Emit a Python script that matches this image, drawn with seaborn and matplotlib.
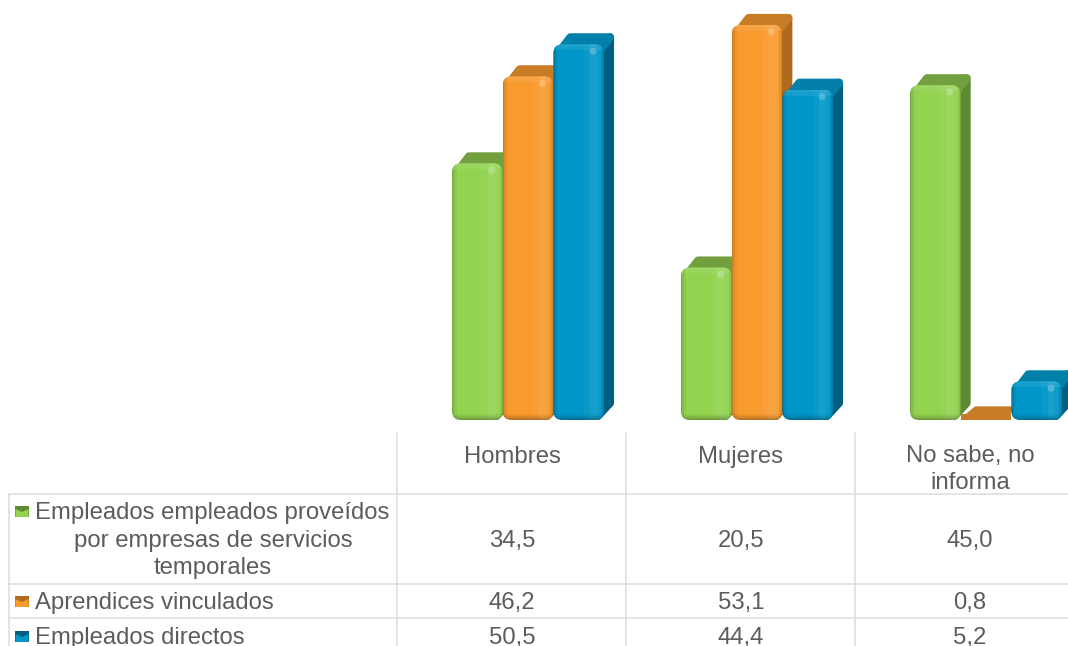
import matplotlib
matplotlib.use('Agg')
import matplotlib.pyplot as plt
import pandas as pd
import seaborn as sns
from matplotlib.patches import Ellipse, FancyBboxPatch, Polygon, Rectangle
from matplotlib.transforms import Affine2D

# data
categories = ['Hombres', 'Mujeres', 'No sabe, no informa']
series_names = ['Empleados empleados proveídos por empresas de servicios temporales',
                'Aprendices vinculados',
                'Empleados directos']
temporales = [34.5, 20.5, 45.0]
aprendices = [46.2, 53.1, 0.8]
directos = [50.5, 44.4, 5.2]

front_colors = ['#92d350', '#f99a2e', '#0096c8']
top_colors = ['#72a03e', '#c87c26', '#0380aa']
side_colors = ['#5f8a33', '#b06a1e', '#005f80']

W, H = 1068, 646
sns.set_style('white')
plt.rcParams['font.family'] = ['Liberation Sans', 'DejaVu Sans']

rows = []
for name, vals in zip(series_names, [temporales, aprendices, directos]):
    for c, v in zip(categories, vals):
        rows.append({'categoria': c, 'serie': name, 'valor': v})
df = pd.DataFrame(rows)

fig = plt.figure(figsize=(W / 100, H / 100), dpi=100)
# axes run from pixel x=398 to the right edge, baseline at y=420
ax = fig.add_axes([398 / W, (H - 420) / H, (W - 398) / W, 420 / H])
sns.barplot(data=df, x='categoria', y='valor', hue='serie', order=categories,
            hue_order=series_names, palette=front_colors, width=0.664, gap=0,
            saturation=1, legend=False, ax=ax)
ax.set_xlim((398 - 528) / 229, (W - 528) / 229)
ax.set_ylim(0, 420 / 7.44)
ax.axis('off')

# pixel coordinates with y pointing down
pix = Affine2D().scale(1 / W, -1 / H).translate(0, 1) + fig.transFigure


def to_pixels(x, y):
    px, py = ax.transData.transform((x, y))
    return px * 100 / fig.dpi, H - py * 100 / fig.dpi


def add(artist, clip=None):
    artist.set_transform(pix)
    ax.add_patch(artist)
    if clip is None:
        artist.set_clip_on(False)
    else:
        artist.set_clip_path(clip)
    return artist


def draw_3d(bar, i, z):
    left, bottom = to_pixels(bar.get_x(), 0)
    right, top = to_pixels(bar.get_x() + bar.get_width(), bar.get_height())
    w = right - left
    h = bottom - top
    d = 10
    up = 11
    r = 9
    s_in = 4
    flat = h < 10

    # side and top faces, strokes with round joins give the soft corners
    if flat:
        # a nearly empty bar is only a flat plate
        bar.set_facecolor(top_colors[i])
        bar.set_edgecolor('none')
        bar.set_linewidth(0)
        bar.set_zorder(z + 0.2)
        add(Polygon([(left + 3, bottom - 2), (left + d + 5, top - up + 5),
                     (right + d - 9, top - up + 5), (right - 6, bottom - 2)],
                    closed=True, fc=top_colors[i], ec=top_colors[i], lw=2.5,
                    joinstyle='round', zorder=z + 0.1))
        return

    side_bottom = max(bottom - up - s_in - 2, top - up + s_in + 1)
    add(Polygon([(right - s_in, top + s_in), (right + d - s_in, top - up + s_in),
                 (right + d - s_in, side_bottom), (right - s_in - 2, bottom - s_in)],
                closed=True, fc=side_colors[i], ec=side_colors[i], lw=5.8,
                joinstyle='round', zorder=z))
    add(Polygon([(left + s_in + 3, top + s_in + 2), (left + d + s_in + 3, top - up + s_in),
                 (right + d - s_in, top - up + s_in), (right - s_in, top + s_in + 2)],
                closed=True, fc=top_colors[i], ec=top_colors[i], lw=5.8,
                joinstyle='round', zorder=z + 0.1))

    # front face: the seaborn bar itself, clipped to a rounded box
    rr = min(r, h / 2 - 0.5)
    box = FancyBboxPatch((left + rr, top + rr), w - 2 * rr, h - 2 * rr,
                         boxstyle='round,pad=%f,rounding_size=%f' % (rr, rr),
                         fc='none', ec='none', transform=pix)
    ax.add_patch(box)
    box.set_clip_on(False)
    bar.set_edgecolor('none')
    bar.set_linewidth(0)
    bar.set_zorder(z + 0.2)
    bar.set_clip_path(box)

    strips = [(0, 0.03, 'black', 0.2), (0.03, 0.06, 'black', 0.1), (0.06, 0.1, 'black', 0.04),
              (0.6, 0.72, 'white', 0.04), (0.72, 0.86, 'white', 0.09),
              (0.86, 0.94, 'white', 0.05), (0.94, 0.98, 'black', 0.06), (0.98, 1.0, 'black', 0.15)]
    for a, b, col, alpha in strips:
        add(Rectangle((left + a * w, top), (b - a) * w, h, fc=col, ec='none',
                      alpha=alpha, zorder=z + 0.3), clip=box)
    for y0, hh, col, alpha in [(top, 2, 'white', 0.12), (top + 2, 4, 'white', 0.08),
                               (bottom - 6, 2, 'black', 0.05), (bottom - 4, 2, 'black', 0.12),
                               (bottom - 2, 2, 'black', 0.24)]:
        add(Rectangle((left, y0), w, hh, fc=col, ec='none', alpha=alpha, zorder=z + 0.4), clip=box)
    # small highlight in the top right corner
    if h > 20:
        add(Ellipse((right - 11, top + 7), 7, 7, fc='white', ec='none', alpha=0.22, zorder=z + 0.5))


bars = [p for p in ax.patches if isinstance(p, Rectangle)]
bars = sorted(bars, key=lambda b: b.get_x())
for k, bar in enumerate(bars):
    draw_3d(bar, k % len(series_names), 3 + k)

# table
grid = '#dcdcdc'
overlay = fig.add_axes([0, 0, 1, 1], facecolor='none')
overlay.set_xlim(0, W)
overlay.set_ylim(H, 0)
overlay.axis('off')
for x, y0 in [(9, 494), (397, 433), (626, 433), (855, 433)]:
    overlay.plot([x, x], [y0, H], color=grid, lw=1.1)
for y in [494, 584, 618]:
    overlay.plot([9, W], [y, y], color=grid, lw=1.1)

txt = dict(color='#5c5c5c', fontsize=17.2, va='center')
centers = [512, 741, 970]
overlay.text(centers[0], 457, 'Hombres', ha='center', **txt)
overlay.text(centers[1], 457, 'Mujeres', ha='center', **txt)
overlay.text(centers[2], 456, 'No sabe, no', ha='center', **txt)
overlay.text(centers[2], 483, 'informa', ha='center', **txt)

overlay.text(35, 513, 'Empleados empleados proveídos', ha='left', **txt)
overlay.text(213, 541, 'por empresas de servicios', ha='center', **txt)
overlay.text(213, 568, 'temporales', ha='center', **txt)
overlay.text(35, 603, 'Aprendices vinculados', ha='left', **txt)
overlay.text(35, 638, 'Empleados directos', ha='left', **txt)

for vals, y in zip([temporales, aprendices, directos], [541, 603, 638]):
    for x, v in zip(centers, vals):
        overlay.text(x, y, ('%.1f' % v).replace('.', ','), ha='center', **txt)

# legend keys
for i, y in enumerate([511, 601, 636]):
    overlay.add_patch(Rectangle((15, y - 5), 14, 11, fc=side_colors[i], ec='none'))
    overlay.add_patch(Polygon([(15.5, y - 2), (22, y + 1), (28.5, y - 2), (28.5, y + 6), (15.5, y + 6)],
                              closed=True, fc=front_colors[i], ec='none'))

fig.savefig('out.png', dpi=100, facecolor='white')
